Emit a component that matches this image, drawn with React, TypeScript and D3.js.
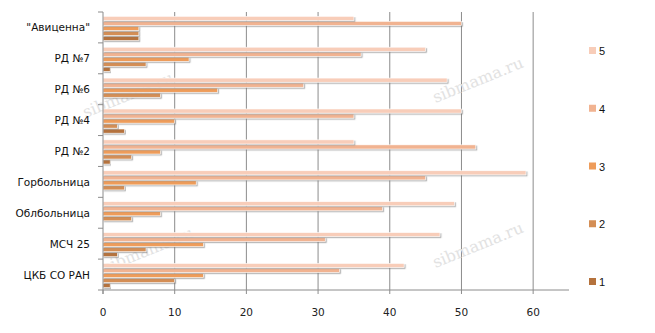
import React from "react";
import * as d3 from "d3";

const categories = ["ЦКБ СО РАН", "МСЧ 25", "Облбольница", "Горбольница", "РД №2", "РД №4", "РД №6", "РД №7", "\"Авиценна\""];
const seriesNames = ["1", "2", "3", "4", "5"];
const s1 = [1, 2, 0, 0, 1, 3, 0, 1, 5];
const s2 = [10, 6, 4, 3, 4, 2, 8, 6, 5];
const s3 = [14, 14, 8, 13, 8, 10, 16, 12, 5];
const s4 = [33, 31, 39, 45, 52, 35, 28, 36, 50];
const s5 = [42, 47, 49, 59, 35, 50, 48, 45, 35];
const seriesValues = [s1, s2, s3, s4, s5];
const colors = ["#B5723C", "#D48E55", "#EE9C5A", "#F1B391", "#F8CDB9"];
const xTicks = [0, 10, 20, 30, 40, 50, 60];

const W = 655, H = 333;
const left = 103, right = 569, top = 12, bottom = 290;

export default function App() {
  const x = d3.scaleLinear().domain([0, 65]).range([left, right]);
  const topDown = categories.slice().reverse();
  const y = d3.scaleBand().domain(topDown).range([top, bottom]);
  const inner = d3.scaleBand().domain(["5", "4", "3", "2", "1"]).range([4.3, 28.5]).paddingInner(0.17);
  const font = "'DejaVu Sans', Verdana, sans-serif";
  const legendY = d3.scalePoint().domain(["5", "4", "3", "2", "1"]).range([51, 282]);
  const watermarks = [[130, 100], [480, 85], [150, 255], [480, 250]];
  return (
    <svg width={W} height={H} style={{ position: "absolute", left: 0, top: 0, background: "#fff" }} fontFamily={font}>
      <defs>
        <filter id="sh" x="-5%" y="-50%" width="110%" height="250%">
          <feDropShadow dx="1.2" dy="1.2" stdDeviation="0.7" floodColor="#777" floodOpacity="0.55" />
        </filter>
      </defs>
      {/* gridlines */}
      {xTicks.filter((t) => t > 0).map((t) => (
        <line key={"g" + t} x1={x(t)} x2={x(t)} y1={top} y2={bottom} stroke="#8c8c8c" strokeWidth={1} />
      ))}
      {/* watermarks */}
      {watermarks.map(([wx, wy], i) => (
        <text key={"w" + i} x={wx} y={wy} fontFamily="'DejaVu Serif', serif" fontSize={16} fill="#e2e2e2"
          transform={`rotate(-22 ${wx} ${wy})`} textAnchor="middle">sibmama.ru</text>
      ))}
      {/* bars */}
      {seriesValues.map((vals, si) =>
        vals.map((v, ci) => {
          if (v <= 0) return null;
          const cat = categories[ci];
          const yy = (y(cat) as number) + (inner(seriesNames[si]) as number);
          return (
            <rect key={`b${si}-${ci}`} x={x(0)} y={yy} width={x(v) - x(0)} height={inner.bandwidth()}
              fill={colors[si]} stroke="#fff" strokeWidth={0.6} filter="url(#sh)" />
          );
        })
      )}
      {/* axes */}
      <line x1={left} x2={left} y1={top} y2={bottom + 4} stroke="#8c8c8c" />
      <line x1={left} x2={right} y1={bottom} y2={bottom} stroke="#8c8c8c" />
      {topDown.map((c) => (
        <line key={"t" + c} x1={left - 5} x2={left} y1={y(c)} y2={y(c)} stroke="#8c8c8c" />
      ))}
      <line x1={left - 5} x2={left} y1={bottom} y2={bottom} stroke="#8c8c8c" />
      {xTicks.map((t) => (
        <line key={"xt" + t} x1={x(t)} x2={x(t)} y1={bottom} y2={bottom + 4} stroke="#8c8c8c" />
      ))}
      {xTicks.map((t) => (
        <text key={"xl" + t} x={x(t)} y={316} fontSize={10.5} textAnchor="middle" fill="#222">{t}</text>
      ))}
      {topDown.map((c) => (
        <text key={"cl" + c} x={90} y={(y(c) as number) + y.bandwidth() / 2 + 4} fontSize={10.5} textAnchor="end" fill="#111">{c}</text>
      ))}
      {/* legend */}
      {["5", "4", "3", "2", "1"].map((s) => {
        const idx = seriesNames.indexOf(s);
        const ly = legendY(s) as number;
        return (
          <g key={"l" + s}>
            <rect x={589} y={ly - 4} width={7} height={7} fill={colors[idx]} />
            <text x={599} y={ly + 4} fontSize={11} fontFamily="'Liberation Sans', Arial, sans-serif" fill="#111">{s}</text>
          </g>
        );
      })}
    </svg>
  );
}
